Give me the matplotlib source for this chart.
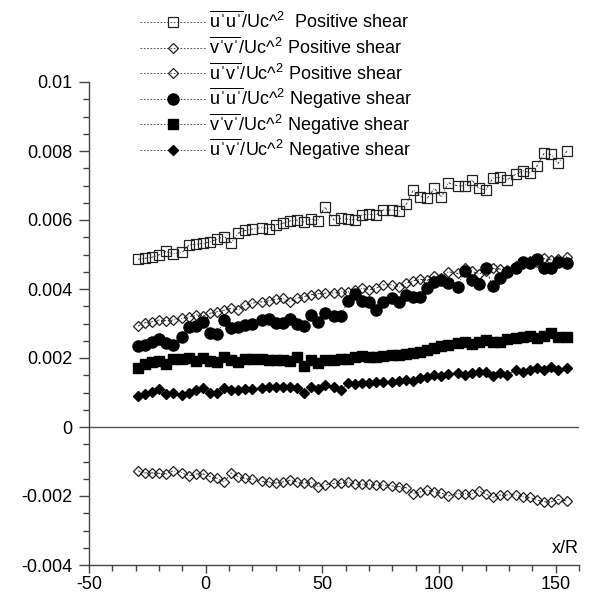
import matplotlib
matplotlib.use("Agg")
import matplotlib.pyplot as plt
from matplotlib.lines import Line2D
from matplotlib.ticker import MultipleLocator

plt.rcParams['font.family'] = ['Liberation Sans', 'DejaVu Sans']
plt.rcParams['mathtext.fontset'] = 'custom'
plt.rcParams['mathtext.rm'] = 'Liberation Sans'
plt.rcParams['mathtext.it'] = 'Liberation Sans'
plt.rcParams['mathtext.bf'] = 'Liberation Sans'

x_pos = [-29, -26, -23, -20, -17, -14, -10, -7, -4, -1, 2, 5, 8, 11, 14, 17, 20,
         24, 27, 30, 33, 36, 39, 42, 45, 48, 51, 55, 58, 61, 64, 67, 70, 73, 76,
         80, 83, 86, 89, 92, 95, 98, 101, 104, 108, 111, 114, 117, 120, 123, 126,
         129, 133, 136, 139, 142, 145, 148, 151, 155]

uu_pos = [0.00486, 0.00489, 0.00492, 0.00499, 0.00509, 0.00502, 0.00506, 0.00528,
          0.00530, 0.00532, 0.00537, 0.00545, 0.00552, 0.00534, 0.00562, 0.00570,
          0.00574, 0.00578, 0.00575, 0.00586, 0.00590, 0.00597, 0.00600, 0.00594,
          0.00603, 0.00598, 0.00638, 0.00600, 0.00605, 0.00602, 0.00600, 0.00614,
          0.00617, 0.00614, 0.00629, 0.00629, 0.00626, 0.00646, 0.00687, 0.00668,
          0.00663, 0.00692, 0.00666, 0.00708, 0.00699, 0.00699, 0.00716, 0.00692,
          0.00687, 0.00721, 0.00724, 0.00716, 0.00733, 0.00743, 0.00737, 0.00757,
          0.00793, 0.00790, 0.00764, 0.00801]

vv_pos = [0.00293, 0.00302, 0.00305, 0.00310, 0.00308, 0.00310, 0.00315, 0.00320,
          0.00325, 0.00322, 0.00330, 0.00334, 0.00339, 0.00344, 0.00339, 0.00354,
          0.00359, 0.00363, 0.00366, 0.00370, 0.00373, 0.00363, 0.00373, 0.00378,
          0.00383, 0.00386, 0.00388, 0.00389, 0.00392, 0.00392, 0.00397, 0.00402,
          0.00398, 0.00402, 0.00412, 0.00412, 0.00405, 0.00417, 0.00424, 0.00428,
          0.00425, 0.00438, 0.00432, 0.00450, 0.00445, 0.00460, 0.00452, 0.00443,
          0.00452, 0.00460, 0.00458, 0.00455, 0.00468, 0.00472, 0.00480, 0.00478,
          0.00489, 0.00484, 0.00488, 0.00494]

uv_pos = [-0.00127, -0.00133, -0.00133, -0.00134, -0.00136, -0.00127, -0.00133,
          -0.00142, -0.00136, -0.00136, -0.00144, -0.00149, -0.00159, -0.00133,
          -0.00144, -0.00149, -0.00152, -0.00157, -0.00159, -0.00163, -0.00159,
          -0.00154, -0.00159, -0.00163, -0.00159, -0.00173, -0.00168, -0.00163,
          -0.00163, -0.00159, -0.00166, -0.00166, -0.00165, -0.00168, -0.00168,
          -0.00171, -0.00173, -0.00176, -0.00193, -0.00188, -0.00183, -0.00188,
          -0.00191, -0.00200, -0.00193, -0.00193, -0.00193, -0.00185, -0.00194,
          -0.00204, -0.00197, -0.00197, -0.00197, -0.00202, -0.00204, -0.00212,
          -0.00217, -0.00217, -0.00210, -0.00215]

uu_neg = [0.00235, 0.00238, 0.00247, 0.00254, 0.00243, 0.00238, 0.00262, 0.00291,
          0.00293, 0.00305, 0.00272, 0.00270, 0.00310, 0.00286, 0.00289, 0.00296,
          0.00300, 0.00310, 0.00312, 0.00302, 0.00302, 0.00312, 0.00300, 0.00294,
          0.00325, 0.00305, 0.00331, 0.00322, 0.00322, 0.00366, 0.00386, 0.00366,
          0.00363, 0.00339, 0.00363, 0.00373, 0.00363, 0.00383, 0.00378, 0.00378,
          0.00402, 0.00421, 0.00426, 0.00418, 0.00407, 0.00453, 0.00426, 0.00414,
          0.00460, 0.00409, 0.00431, 0.00450, 0.00460, 0.00479, 0.00474, 0.00486,
          0.00460, 0.00460, 0.00479, 0.00474]

vv_neg = [0.00172, 0.00183, 0.00188, 0.00192, 0.00184, 0.00198, 0.00198, 0.00200,
          0.00192, 0.00200, 0.00190, 0.00187, 0.00204, 0.00193, 0.00187, 0.00196,
          0.00198, 0.00196, 0.00194, 0.00193, 0.00195, 0.00192, 0.00204, 0.00177,
          0.00194, 0.00185, 0.00194, 0.00195, 0.00198, 0.00196, 0.00203, 0.00206,
          0.00202, 0.00204, 0.00206, 0.00209, 0.00209, 0.00211, 0.00214, 0.00218,
          0.00224, 0.00228, 0.00236, 0.00238, 0.00243, 0.00247, 0.00240, 0.00245,
          0.00252, 0.00247, 0.00246, 0.00254, 0.00257, 0.00262, 0.00264, 0.00257,
          0.00265, 0.00272, 0.00260, 0.00260]

uv_neg = [0.00090, 0.00096, 0.00102, 0.00109, 0.00096, 0.00099, 0.00093, 0.00099,
          0.00107, 0.00112, 0.00098, 0.00099, 0.00112, 0.00107, 0.00107, 0.00109,
          0.00109, 0.00112, 0.00117, 0.00115, 0.00117, 0.00115, 0.00112, 0.00099,
          0.00117, 0.00109, 0.00122, 0.00117, 0.00107, 0.00127, 0.00125, 0.00128,
          0.00127, 0.00131, 0.00129, 0.00131, 0.00133, 0.00136, 0.00133, 0.00141,
          0.00146, 0.00151, 0.00149, 0.00153, 0.00156, 0.00151, 0.00156, 0.00158,
          0.00160, 0.00147, 0.00156, 0.00151, 0.00165, 0.00160, 0.00165, 0.00170,
          0.00165, 0.00175, 0.00165, 0.00170]

ap = "\u02c8"
labels = [
    r"$\overline{\mathrm{u%su%s}}$/Uc^$^{2}$  Positive shear" % (ap, ap),
    r"$\overline{\mathrm{v%sv%s}}$/Uc^$^{2}$ Positive shear" % (ap, ap),
    r"$\overline{\mathrm{u%sv%s}}$/Uc^$^{2}$ Positive shear" % (ap, ap),
    r"$\overline{\mathrm{u%su%s}}$/Uc^$^{2}$ Negative shear" % (ap, ap),
    r"$\overline{\mathrm{v%sv%s}}$/Uc^$^{2}$ Negative shear" % (ap, ap),
    r"$\overline{\mathrm{u%sv%s}}$/Uc^$^{2}$ Negative shear" % (ap, ap),
]

W, H = 589, 598
fig = plt.figure(figsize=(W / 100, H / 100), dpi=100)
ax = fig.add_axes([89 / W, 1 - 565 / H, 490 / W, (565 - 82) / H])

ls = (0, (3, 2, 1, 2))
line_kw = dict(linestyle=ls, linewidth=0.6, color='#222222')
styles = [
    dict(marker='s', markersize=7.0, markerfacecolor='none', markeredgecolor='#222222', markeredgewidth=0.9),
    dict(marker='D', markersize=4.8, markerfacecolor='none', markeredgecolor='#222222', markeredgewidth=0.9),
    dict(marker='D', markersize=4.8, markerfacecolor='none', markeredgecolor='#222222', markeredgewidth=0.9),
    dict(marker='o', markersize=8.0, markerfacecolor='black', markeredgecolor='black'),
    dict(marker='s', markersize=6.8, markerfacecolor='black', markeredgecolor='black'),
    dict(marker='D', markersize=5.0, markerfacecolor='black', markeredgecolor='black'),
]
series = [uu_pos, vv_pos, uv_pos, uu_neg, vv_neg, uv_neg]

for ys, st, lab in zip(series, styles, labels):
    ax.plot(x_pos, ys, label=lab, **line_kw, **st)

ax.axhline(0, color='#555555', linewidth=1.0, zorder=0)

ax.set_xlim(-50, 160)
ax.set_ylim(-0.004, 0.01)
ax.xaxis.set_minor_locator(MultipleLocator(10))
ax.yaxis.set_minor_locator(MultipleLocator(0.0005))
ax.set_yticks([-0.004, -0.002, 0, 0.002, 0.004, 0.006, 0.008, 0.01])
ax.set_yticklabels(['-0.004', '-0.002', '0', '0.002', '0.004', '0.006', '0.008', '0.01'])
ax.set_xticks([-50, 0, 50, 100, 150])
ax.set_xticklabels(['-50', '0', '50', '100', '150'])

for s in ['top', 'right']:
    ax.spines[s].set_visible(False)
for s in ['left', 'bottom']:
    ax.spines[s].set_color('#444444')
    ax.spines[s].set_linewidth(1.0)

ax.tick_params(axis='both', which='major', labelsize=13, color='#444444',
               width=1.0, direction='out')
ax.tick_params(axis='y', which='major', length=7, pad=5)
ax.tick_params(axis='x', which='major', length=6, pad=2)
ax.tick_params(axis='both', which='minor', length=4, width=1.0, color='#444444',
               direction='out')

ax.text(1.0, 0.035, 'x/R', transform=ax.transAxes, ha='right', va='center',
        fontsize=13)

# legend rows, drawn in figure pixels
row0, pitch = 22.0, 25.6
for i, (st, lab) in enumerate(zip(styles, labels)):
    yc = 1 - (row0 + i * pitch) / H
    fig.add_artist(Line2D([140 / W, 205 / W], [yc, yc], transform=fig.transFigure,
                          linestyle=(0, (2, 2)), linewidth=0.6, color='#333333'))
    fig.add_artist(Line2D([172.5 / W], [yc], transform=fig.transFigure,
                          linestyle='none', **st))
    fig.text(209 / W, 1 - (row0 + i * pitch + 6.5) / H, lab, fontsize=13,
             ha='left', va='baseline')

fig.savefig('out.png', dpi=100)
